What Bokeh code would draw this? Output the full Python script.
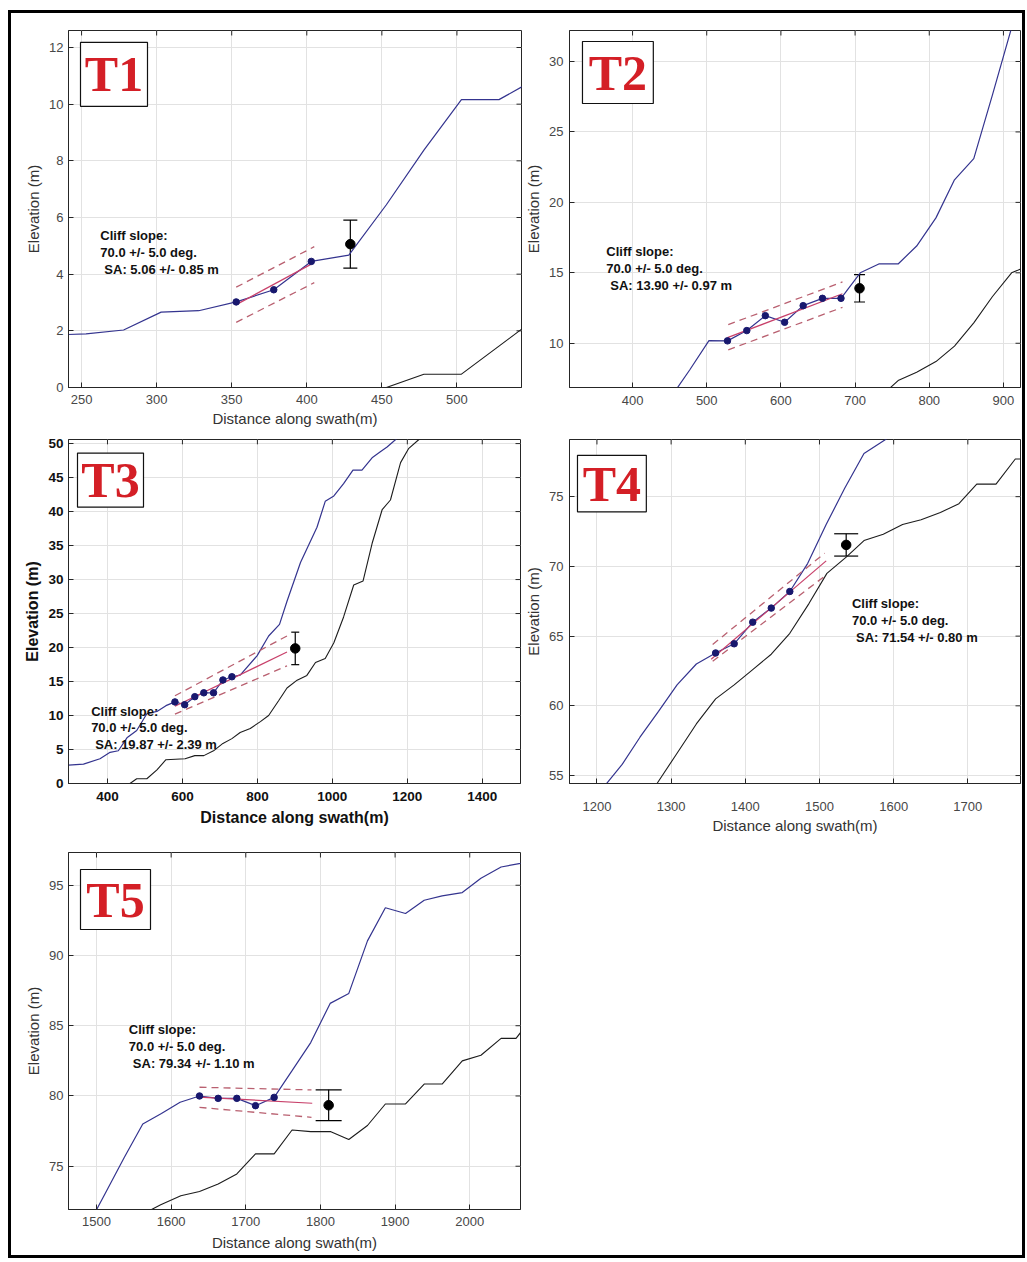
import numpy as np
from bokeh.plotting import figure
from bokeh.layouts import row, column
from bokeh.models import (Range1d, FixedTicker, Label, BoxAnnotation,
                          Whisker, TeeHead, ColumnDataSource)
from bokeh.embed import file_html
from bokeh.resources import INLINE

# ------------------------------------------------------------------ data
names = ["T1", "T2", "T3", "T4", "T5"]
slope_deg = [70.0, 70.0, 70.0, 70.0, 70.0]
slope_err = [5.0, 5.0, 5.0, 5.0, 5.0]
sa_val = [5.06, 13.90, 19.87, 71.54, 79.34]
sa_err = [0.85, 0.97, 2.39, 0.80, 1.10]
sa_x = [429, 706, 901, 1536, 1811]

x_ranges = [(241.3, 543), (315, 923), (296, 1502), (1163, 1771), (1462.5, 2068)]
y_ranges = [(0, 12.6), (6.86, 32.2), (0, 50.6), (54.43, 79.1), (71.92, 97.33)]
x_ticks = [[250, 300, 350, 400, 450, 500],
           [400, 500, 600, 700, 800, 900],
           [400, 600, 800, 1000, 1200, 1400],
           [1200, 1300, 1400, 1500, 1600, 1700],
           [1500, 1600, 1700, 1800, 1900, 2000]]
y_ticks = [[0, 2, 4, 6, 8, 10, 12],
           [10, 15, 20, 25, 30],
           [0, 5, 10, 15, 20, 25, 30, 35, 40, 45, 50],
           [55, 60, 65, 70, 75],
           [75, 80, 85, 90, 95]]

# upper (blue) profiles
t1_up_x = [228, 253, 278, 303, 328, 353, 378, 403, 428, 453, 478, 503, 528, 553]
t1_up_y = [1.85, 1.89, 2.03, 2.66, 2.71, 3.02, 3.45, 4.45, 4.67, 6.45, 8.38, 10.16, 10.16, 10.9]
t2_up_x = [452, 477, 503, 528, 554, 579, 605, 630, 656, 681, 707, 732, 758, 783, 809, 834, 860, 885, 911]
t2_up_y = [6.2, 8.1, 10.19, 10.17, 10.9, 11.96, 11.49, 12.67, 13.19, 13.19, 15.0, 15.63, 15.63,
           16.9, 18.9, 21.6, 23.1, 27.6, 32.4]
t3_up_x = [296, 336, 380, 407, 429, 452, 478, 505, 532, 556, 580, 606, 633, 657, 683, 708, 732,
           754, 799, 830, 859, 879, 915, 959, 981, 1004, 1030, 1055, 1079, 1106, 1128, 1146, 1169, 1190]
t3_up_y = [2.7, 2.84, 3.64, 4.59, 4.82, 6.72, 7.8, 10.26, 10.6, 11.45, 12.0, 11.59, 12.77, 13.34,
           13.34, 15.23, 15.7, 15.94, 18.78, 21.7, 23.4, 26.8, 32.5, 37.7, 41.5, 42.3, 44.1, 46.1,
           46.1, 47.9, 48.8, 49.5, 50.6, 52.0]
t4_up_x = [1208, 1234, 1258, 1283, 1308, 1334, 1360, 1385, 1410, 1435, 1460, 1484, 1509, 1534,
           1560, 1592, 1620]
t4_up_y = [54.1, 55.8, 57.75, 59.6, 61.5, 63.0, 63.79, 64.45, 66.0, 67.01, 68.2, 70.2, 73.0, 75.6,
           78.1, 79.2, 80.1]
t5_up_x = [1487, 1512, 1537, 1562, 1587, 1612, 1638, 1663, 1688, 1713, 1738, 1762, 1787, 1813,
           1838, 1863, 1887, 1914, 1939, 1963, 1990, 2015, 2042, 2068, 2090]
t5_up_y = [70.6, 73.1, 75.6, 78.0, 78.75, 79.55, 80.0, 79.83, 79.83, 79.31, 79.9, 81.8, 83.8,
           86.59, 87.3, 91.04, 93.4, 92.99, 93.93, 94.24, 94.48, 95.5, 96.3, 96.55, 96.8]

# lower (black) profiles
t1_lo_x = [228, 253, 278, 303, 328, 353, 378, 403, 428, 453, 478, 503, 528, 553]
t1_lo_y = [0, 0, 0, 0, 0, 0, 0, 0, 0, 0, 0.47, 0.47, 1.46, 2.45]
t2_lo_x = [732, 758, 783, 809, 834, 860, 885, 911, 936]
t2_lo_y = [6.1, 7.35, 7.95, 8.7, 9.8, 11.45, 13.3, 15.0, 15.55]
t3_lo_x = [296, 460, 478, 505, 532, 556, 607, 633, 657, 683, 708, 732, 754, 781, 808, 830, 857,
           879, 906, 932, 955, 981, 1004, 1030, 1057, 1082, 1106, 1133, 1155, 1182, 1204, 1231, 1260]
t3_lo_y = [0, 0, 0.7, 0.7, 2.0, 3.5, 3.64, 4.1, 4.1, 4.8, 5.9, 6.6, 7.5, 8.1, 9.1, 10.0, 12.2,
           14.05, 15.2, 15.9, 17.8, 18.4, 20.7, 24.5, 29.2, 29.8, 35.3, 40.3, 41.7, 47.2, 49.3, 50.6, 52.0]
t4_lo_x = [1255, 1281, 1308, 1334, 1360, 1385, 1410, 1435, 1460, 1486, 1510, 1536, 1560, 1586,
           1612, 1637, 1663, 1688, 1712, 1738, 1764, 1780]
t4_lo_y = [52.4, 54.43, 56.6, 58.7, 60.5, 61.5, 62.6, 63.7, 65.2, 67.35, 69.5, 70.66, 71.85, 72.3,
           73.0, 73.34, 73.86, 74.5, 75.9, 75.9, 77.7, 77.7]
t5_lo_x = [1562, 1586, 1613, 1638, 1663, 1688, 1713, 1738, 1762, 1787, 1814, 1838, 1863, 1887,
           1914, 1939, 1963, 1990, 2015, 2042, 2062, 2087]
t5_lo_y = [71.6, 72.25, 72.9, 73.2, 73.74, 74.45, 75.88, 75.88, 77.58, 77.46, 77.46, 76.9, 77.9,
           79.43, 79.43, 80.85, 80.85, 82.5, 82.9, 84.1, 84.1, 85.8]

# cliff-face sample points (markers)
t1_mk_x = [353, 378, 403]
t1_mk_y = [3.02, 3.45, 4.45]
t2_mk_x = [528, 554, 579, 605, 630, 656, 681]
t2_mk_y = [10.17, 10.9, 11.96, 11.49, 12.67, 13.19, 13.19]
t3_mk_x = [580, 606, 633, 657, 683, 708, 732]
t3_mk_y = [12.0, 11.59, 12.77, 13.34, 13.34, 15.23, 15.7]
t4_mk_x = [1360, 1385, 1410, 1435, 1460]
t4_mk_y = [63.79, 64.45, 66.0, 67.01, 68.2]
t5_mk_x = [1638, 1663, 1688, 1713, 1738]
t5_mk_y = [80.0, 79.83, 79.83, 79.31, 79.9]

# extent of the fitted line and of its dashed confidence band
fit_x = [(353, 403), (528, 683), (580, 879), (1354, 1509), (1637, 1789)]
band_x = [(353, 405), (529, 683), (580, 879), (1356, 1507), (1638, 1788)]
band_upper = [(3.54, 4.97), (11.32, 14.35), (12.9, 21.7), (64.4, 70.95), (80.62, 80.43)]
band_lower = [(2.30, 3.70), (9.53, 12.55), (10.2, 17.3), (63.2, 69.3), (79.19, 78.48)]

# annotation anchor (top-left of text block)
ann_x = [262.5, 364.6, 356.4, 1543.8, 1543.3]
ann_y = [5.62, 17.02, 11.73, 67.89, 85.26]

up_x = [t1_up_x, t2_up_x, t3_up_x, t4_up_x, t5_up_x]
up_y = [t1_up_y, t2_up_y, t3_up_y, t4_up_y, t5_up_y]
lo_x = [t1_lo_x, t2_lo_x, t3_lo_x, t4_lo_x, t5_lo_x]
lo_y = [t1_lo_y, t2_lo_y, t3_lo_y, t4_lo_y, t5_lo_y]
mk_x = [t1_mk_x, t2_mk_x, t3_mk_x, t4_mk_x, t5_mk_x]
mk_y = [t1_mk_y, t2_mk_y, t3_mk_y, t4_mk_y, t5_mk_y]

# ------------------------------------------------------------------ layout / style
styles = [
    dict(w=511, h=419, bl=57, br=1, bt=17, bb=44, bold=False, xlab=True, xls=7, xals=3, yls=5,
         box=(12, 79, 12, 76), tee=14),
    dict(w=500, h=419, bl=46, br=2, bt=17, bb=45, bold=False, xlab=False, xls=8, xals=3, yls=6,
         box=(13, 84, 11, 73), tee=11),
    dict(w=511, h=413, bl=57, br=2, bt=7, bb=50, bold=True, xlab=True, xls=8, xals=5, yls=5,
         box=(9, 75, 14, 70), tee=8),
    dict(w=500, h=413, bl=46, br=2, bt=4, bb=62, bold=False, xlab=True, xls=18, xals=3, yls=6,
         box=(8, 77, 16, 73), tee=24),
    dict(w=511, h=410, bl=57, br=2, bt=7, bb=46, bold=False, xlab=True, xls=7, xals=5, yls=5,
         box=(12, 82, 17, 77), tee=26),
]

FONT = "Liberation Sans"
AX = "#262626"
BLUE = "#34348f"
DARK = "#1c1c1c"
MARK = "#18186e"
FIT = "#c8406a"
BAND = "#b96070"
TICK_PX = 5
LINE_PX = 17


def make_panel(i):
    s = styles[i]
    xr, yr = x_ranges[i], y_ranges[i]
    fw = s["w"] - s["bl"] - s["br"]
    fh = s["h"] - s["bt"] - s["bb"]
    ppu_y = fh / (yr[1] - yr[0])
    p = figure(width=s["w"], height=s["h"], x_range=Range1d(*xr), y_range=Range1d(*yr),
               output_backend="svg", toolbar_location=None,
               min_border_left=s["bl"], min_border_right=s["br"],
               min_border_top=s["bt"], min_border_bottom=s["bb"],
               background_fill_color="white", border_fill_color="white",
               outline_line_color=AX, outline_line_width=1)
    bold = s["bold"]
    fstyle = "bold" if bold else "normal"
    tcol = "#111111" if bold else "#474747"
    for ax, ticks in ((p.xaxis[0], x_ticks[i]), (p.yaxis[0], y_ticks[i])):
        ax.ticker = FixedTicker(ticks=ticks)
        ax.minor_tick_line_color = None
        ax.major_tick_in = TICK_PX
        ax.major_tick_out = 0
        ax.axis_line_color = AX
        ax.major_tick_line_color = AX
        ax.major_label_text_font = FONT
        ax.major_label_text_font_size = "13.5px" if bold else "13px"
        ax.major_label_text_font_style = fstyle
        ax.major_label_text_color = tcol
        ax.axis_label_text_font = FONT
        ax.axis_label_text_font_size = "16px" if bold else "15px"
        ax.axis_label_text_font_style = fstyle
        ax.axis_label_text_color = "#111111" if bold else "#333333"
    p.xaxis[0].major_label_standoff = s["xls"]
    p.xaxis[0].axis_label_standoff = s["xals"]
    p.yaxis[0].major_label_standoff = s["yls"]
    p.yaxis[0].axis_label_standoff = 4
    if s["xlab"]:
        p.xaxis[0].axis_label = "Distance along swath(m)"
    p.yaxis[0].axis_label = "Elevation (m)"

    p.xgrid[0].ticker = FixedTicker(ticks=x_ticks[i])
    p.ygrid[0].ticker = FixedTicker(ticks=y_ticks[i])
    p.grid.grid_line_color = "#e2e2e2"
    p.grid.grid_line_width = 1

    # inward box ticks on the top and right edges (MATLAB "box on")
    dy = TICK_PX * (yr[1] - yr[0]) / fh
    dx = TICK_PX * (xr[1] - xr[0]) / fw
    xt = x_ticks[i]
    yt = y_ticks[i]
    p.segment(x0=xt, y0=[yr[1] - dy] * len(xt), x1=xt, y1=[yr[1]] * len(xt),
              line_color=AX, line_width=1)
    p.segment(x0=[xr[1] - dx] * len(yt), y0=yt, x1=[xr[1]] * len(yt), y1=yt,
              line_color=AX, line_width=1)

    # profiles
    p.line(lo_x[i], lo_y[i], color=DARK, line_width=1.1)
    p.line(up_x[i], up_y[i], color=BLUE, line_width=1.2)

    # fitted cliff line and band
    coef = np.polyfit(mk_x[i], mk_y[i], 1)
    fx = np.array(fit_x[i], dtype=float)
    p.line(fx, np.polyval(coef, fx), color=FIT, line_width=1.2)
    p.line(list(band_x[i]), list(band_upper[i]), color=BAND, line_width=1.3, line_dash="7 5")
    p.line(list(band_x[i]), list(band_lower[i]), color=BAND, line_width=1.3, line_dash="7 5")
    p.scatter(mk_x[i], mk_y[i], size=6.5, color=MARK)

    # SA estimate with error bar
    src = ColumnDataSource(dict(x=[sa_x[i]], lower=[sa_val[i] - sa_err[i]],
                                upper=[sa_val[i] + sa_err[i]]))
    p.add_layout(Whisker(base="x", lower="lower", upper="upper", source=src, dimension="height",
                         line_color="black", line_width=1.2,
                         upper_head=TeeHead(size=s["tee"], line_color="black", line_width=1.2),
                         lower_head=TeeHead(size=s["tee"], line_color="black", line_width=1.2)))
    p.scatter([sa_x[i]], [sa_val[i]], size=9.5, color="black")

    # annotation text, one label per line
    lines = ["Cliff slope:",
             "%.1f +/- %.1f deg." % (slope_deg[i], slope_err[i]),
             "SA:  %.2f +/- %.2f m" % (sa_val[i], sa_err[i])]
    indents = [0, 0, 4]
    for k, (ln, ind) in enumerate(zip(lines, indents)):
        p.add_layout(Label(x=ann_x[i], y=ann_y[i] - k * LINE_PX / ppu_y, x_offset=ind,
                           text=ln, text_font=FONT, text_font_style="bold",
                           text_font_size="13px", text_color="#111111",
                           text_align="left", text_baseline="top"))

    # panel tag box
    l, r, t, b = s["box"]
    bx0 = xr[0] + l / fw * (xr[1] - xr[0])
    bx1 = xr[0] + r / fw * (xr[1] - xr[0])
    by1 = yr[1] - t / fh * (yr[1] - yr[0])
    by0 = yr[1] - b / fh * (yr[1] - yr[0])
    p.add_layout(BoxAnnotation(left=bx0, right=bx1, bottom=by0, top=by1, fill_color="white",
                               fill_alpha=1.0, line_color="#111111", line_width=1.2,
                               line_alpha=1.0))
    p.add_layout(Label(x=(bx0 + bx1) / 2, y=(by0 + by1) / 2, text=names[i],
                       text_font="Liberation Serif", text_font_style="bold",
                       text_font_size="50px", text_color="#d41f26",
                       text_align="center", text_baseline="middle"))
    return p


figs = [make_panel(i) for i in range(5)]
layout = column(row(figs[0], figs[1]), row(figs[2], figs[3]), row(figs[4]),
                styles={"border": "3px solid black", "margin-left": "8px",
                        "margin-top": "10px", "background-color": "white"})

open("out.html", "w").write(file_html(layout, INLINE))
